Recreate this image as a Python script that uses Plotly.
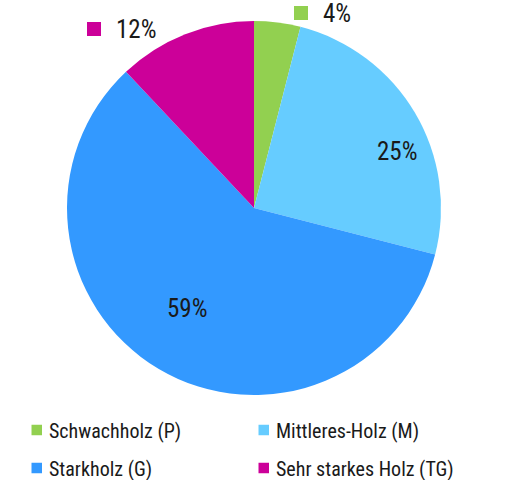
import plotly.graph_objects as go

labels = ["Schwachholz (P)", "Mittleres-Holz (M)", "Starkholz (G)", "Sehr starkes Holz (TG)"]
values = [4, 25, 59, 12]
colors = ["#92d050", "#66ccff", "#3399ff", "#cc0099"]

W, H = 522, 480
FONT = "Roboto Condensed, DejaVu Sans Condensed, sans-serif"
TXT = "#1a1a1a"

def px(x):
    return x / W

def py(y):
    return 1 - y / H

cx, cy, r = 254, 208, 187

fig = go.Figure(go.Pie(
    labels=labels,
    values=values,
    marker=dict(colors=colors, line=dict(width=0)),
    sort=False,
    direction="clockwise",
    rotation=0,
    textinfo="none",
    hoverinfo="label+percent",
    showlegend=False,
    domain=dict(x=[px(cx - r), px(cx + r)], y=[py(cy + r), py(cy - r)]),
))

total = sum(values)
# percentage labels (pixel centres); outside labels get a colour key square
label_pos = [(337, 13), (397, 151), (187, 308), (136, 29)]
key_left = [294, None, None, 87]
for i, (lx, ly) in enumerate(label_pos):
    pct = round(100 * values[i] / total)
    fig.add_annotation(x=px(lx), y=py(ly), xref="paper", yref="paper",
                       text=f"{pct}%", showarrow=False,
                       font=dict(family=FONT, size=25, color=TXT),
                       xanchor="center", yanchor="middle")
    if key_left[i] is not None:
        sx = key_left[i]
        fig.add_shape(type="rect", xref="paper", yref="paper",
                      x0=px(sx), x1=px(sx + 14), y0=py(ly + 7), y1=py(ly - 7),
                      fillcolor=colors[i], line=dict(width=0))

# legend: two columns, two rows
col_x = [31.5, 258.5]
row_y = [430, 468]
for i, lab in enumerate(labels):
    x0 = col_x[i % 2]
    yc = row_y[i // 2]
    fig.add_shape(type="rect", xref="paper", yref="paper",
                  x0=px(x0), x1=px(x0 + 10.5), y0=py(yc + 5.25), y1=py(yc - 5.25),
                  fillcolor=colors[i], line=dict(width=0))
    fig.add_annotation(x=px(x0 + 15), y=py(yc + 0.5), xref="paper", yref="paper",
                       text=lab, showarrow=False,
                       font=dict(family=FONT, size=20, color=TXT),
                       xanchor="left", yanchor="middle")

fig.update_layout(
    width=W, height=H,
    margin=dict(l=0, r=0, t=0, b=0),
    paper_bgcolor="white",
    plot_bgcolor="white",
    showlegend=False,
)

fig.write_html("out.html", config={"displayModeBar": False},
               post_script="document.body.style.margin='0';")
